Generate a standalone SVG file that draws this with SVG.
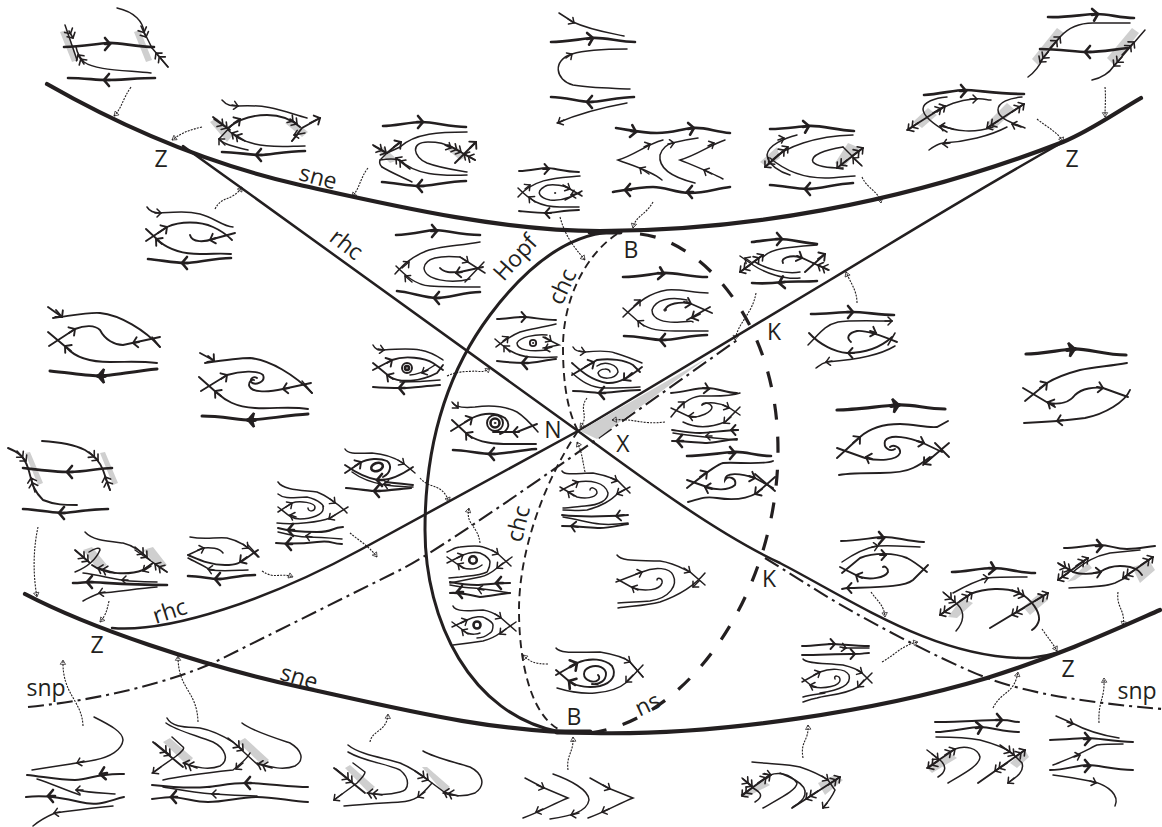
<svg xmlns="http://www.w3.org/2000/svg" width="1162" height="827" viewBox="0 0 1162 827">
<style>
path,ellipse,circle{fill:none;stroke:#231f20;stroke-linecap:round}
.t{stroke-width:1.5}
.m{stroke-width:1.9}
.k{stroke-width:2.6}
.h{stroke-width:3.8}
.g{fill:#cfcfcf;stroke:none}
.a{stroke-width:1.5;marker-end:url(#ar)}
.A{stroke-width:1.9;marker-end:url(#aM)}
.K{stroke-width:2.6;marker-end:url(#aK)}
.H{stroke-width:3.8;marker-end:url(#aH)}
.d{stroke-width:1.6;marker-end:url(#a2)}
.c{stroke-width:1.1;stroke-dasharray:2 1.2;stroke-linecap:butt;marker-end:url(#ac)}
.s1{stroke-width:4.2}
.s2{stroke-width:2.5}
.dd{stroke-width:1.9;stroke-dasharray:8 5;stroke-linecap:butt}
.ns{stroke-width:3.2;stroke-dasharray:16 17;stroke-linecap:butt}
.dc{stroke-width:2.1;stroke-dasharray:16 5 3 5;stroke-linecap:butt}
text{font-family:"Open Sans","Noto Sans","Liberation Sans",sans-serif;font-size:23px;fill:#231f20;text-anchor:middle}
</style>
<defs>
<marker id="ar" markerUnits="userSpaceOnUse" orient="auto" markerWidth="12" markerHeight="12" refX="6" refY="6" viewBox="0 0 12 12"><path d="M2,2 6,6 2,10" stroke-width="1.5"/></marker>
<marker id="aM" markerUnits="userSpaceOnUse" orient="auto" markerWidth="14" markerHeight="14" refX="7" refY="7" viewBox="0 0 14 14"><path d="M2.5,2 7,7 2.5,12" stroke-width="1.9"/></marker>
<marker id="aK" markerUnits="userSpaceOnUse" orient="auto" markerWidth="16" markerHeight="16" refX="8" refY="8" viewBox="0 0 16 16"><path d="M3,2 8,8 3,14" stroke-width="2.6"/></marker>
<marker id="aH" markerUnits="userSpaceOnUse" orient="auto" markerWidth="20" markerHeight="20" refX="10" refY="10" viewBox="0 0 20 20"><path d="M4,3 10,10 4,17 6,10Z" stroke-width="2.4" fill="#231f20"/></marker>
<marker id="a2" markerUnits="userSpaceOnUse" orient="auto" markerWidth="18" markerHeight="14" refX="14" refY="7" viewBox="0 0 18 14"><path d="M5,2.5 9,7 5,11.5M10,2.5 14,7 10,11.5" stroke-width="1.6"/></marker>
<marker id="ac" markerUnits="userSpaceOnUse" orient="auto" markerWidth="8" markerHeight="8" refX="7" refY="4" viewBox="0 0 8 8"><path d="M3,1.5 7,4 3,6.5Z" fill="#231f20" stroke-width=".7"/></marker>
</defs>

<g id="curves">
<path class="s1" d="M47,84C110,120 195,161 300,185C390,205 500,231 600,231C740,231 900,205 1063,142C1090,131 1115,113 1141,98"/>
<path class="s1" d="M25,594C90,628 200,665 300,687C400,709 490,732 590,733C720,736 880,710 987,678C1060,655 1110,632 1160,610"/>
<path class="s2" d="M183,146Q205,162 240,187L578,431C650,484 720,535 780,563C860,605 940,660 1030,658C1040,657 1050,655 1060,652"/>
<path class="s2" d="M112,628C170,633 270,599 360,550L578,431L830,280C900,238 960,200 1063,142"/>
<path class="s1" style="stroke-width:3" d="M610,232C560,236 520,275 490,315C445,375 425,450 425,530C425,620 470,715 560,732"/>
<path class="dd" d="M617,234C585,255 563,300 563,347C563,385 568,412 578,431"/>
<path class="dd" d="M578,431C545,480 519,550 519,610C519,660 530,715 560,730"/>
<path class="ns" d="M640,234C700,240 778,320 778,450C778,590 690,720 590,733"/>
<path class="dc" d="M28,707C100,700 170,682 213,663L400,570C440,550 560,465 600,437L740,338"/>
<path class="dc" d="M765,558L813,588C850,612 940,660 987,678C1030,694 1090,703 1162,709"/>
<path class="g" d="M580,431 707,358 678,379 613,427 597,439Z"/>
<path class="s1" style="stroke-width:5" d="M557,732H590M590,232H620"/>
</g>

<g id="labels">
<text x="161" y="167">Z</text>
<text x="318" y="185" transform="rotate(15 318 178)">sne</text>
<text x="346" y="252" transform="rotate(38 346 245)">rhc</text>
<text x="631" y="258">B</text>
<text x="516" y="265" transform="rotate(-48 516 258)">Hopf</text>
<text x="563" y="294" transform="rotate(-65 563 287)">chc</text>
<text x="774" y="340">K</text>
<text x="553" y="438">N</text>
<text x="623" y="452">X</text>
<text x="519" y="531" transform="rotate(-76 519 524)">chc</text>
<text x="769" y="587">K</text>
<text x="170" y="619" transform="rotate(-18 170 612)">rhc</text>
<text x="97" y="653">Z</text>
<text x="46" y="696">snp</text>
<text x="299" y="685" transform="rotate(17 299 678)">sne</text>
<text x="574" y="725">B</text>
<text x="648" y="712" transform="rotate(-25 648 705)">ns</text>
<text x="1068" y="677">Z</text>
<text x="1137" y="699">snp</text>
<text x="1072" y="167">Z</text>
</g>

<g id="connectors">
<path class="c" d="M131,87C122,100 122,108 114,116"/>
<path class="c" d="M202,127C190,130 183,132 172,140"/>
<path class="c" d="M368,168C360,178 360,188 352,197"/>
<path class="c" d="M215,209C222,195 232,202 242,187"/>
<path class="c" d="M653,202C645,216 636,215 633,228"/>
<path class="c" d="M560,217C565,235 572,245 585,260"/>
<path class="c" d="M862,177C868,190 878,190 881,203"/>
<path class="c" d="M1037,119C1048,128 1058,132 1063,142"/>
<path class="c" d="M1105,87C1106,97 1105,107 1105,117"/>
<path class="c" d="M756,293C752,315 738,322 735,340"/>
<path class="c" d="M857,303C857,290 850,282 846,272"/>
<path class="c" d="M447,376C460,370 470,372 475,371C482,372 485,372 490,368"/>
<path class="c" d="M665,422C640,425 635,418 612,420"/>
<path class="c" d="M587,398C578,410 590,415 580,428"/>
<path class="c" d="M585,472C582,458 582,452 577,442"/>
<path class="c" d="M420,478C430,490 442,482 449,502"/>
<path class="c" d="M480,543C478,525 465,525 469,508"/>
<path class="c" d="M350,533C358,540 368,545 377,557"/>
<path class="c" d="M262,571C275,580 280,572 293,577"/>
<path class="c" d="M38,527C33,550 33,575 37,597"/>
<path class="c" d="M109,601C107,610 106,615 100,622"/>
<path class="c" d="M83,726C82,700 62,695 63,660"/>
<path class="c" d="M198,722C197,690 178,690 178,656"/>
<path class="c" d="M370,742C372,730 387,732 388,714"/>
<path class="c" d="M568,770C566,755 574,752 573,737"/>
<path class="c" d="M548,664C535,664 530,662 523,655"/>
<path class="c" d="M803,758C800,740 809,742 808,725"/>
<path class="c" d="M882,662C895,655 902,645 918,642"/>
<path class="c" d="M993,708C1002,690 1014,695 1018,672"/>
<path class="c" d="M1042,629C1048,638 1052,642 1057,651"/>
<path class="c" d="M1099,723C1098,700 1105,700 1104,678"/>
<path class="c" d="M1118,592C1116,608 1126,610 1123,626"/>
<path class="c" d="M871,592C878,602 884,605 885,617"/>
</g>

<g id="n1">
<path class="g" d="M60,32 67,30 78,60 72,62Z"/><path class="g" d="M134,32 140,30 152,60 146,62Z"/>
<path class="k" d="M64,47C80,47 95,44 107,43S135,47 154,47"/><path class="K" d="M105,44 110,44"/>
<path class="t" d="M65,25L77,60"/><path class="d" d="M69,31 73,38"/>
<path class="t" d="M151,73C120,70 95,70 84,62C79,57 77,52 76,47"/><path class="d" d="M84,64 78,55"/>
<path class="t" d="M117,8C135,12 143,22 144,32L152,48"/><path class="d" d="M141,26 146,37"/>
<path class="t" d="M168,67L152,48"/><path class="d" d="M168,67 156,53"/>
<path class="k" d="M68,78C85,78 95,80 107,80S140,78 155,78"/><path class="K" d="M110,80 104,80"/>
</g>

<g id="n2">
<path class="g" d="M210,122 217,118 233,135 227,142Z"/><path class="g" d="M285,123 293,120 308,132 302,137Z"/>
<path class="t" d="M222,100C227,106 232,106 238,106C270,104 285,112 307,118"/><path class="a" d="M232,105 238,106"/>
<path class="m" d="M228,128C240,118 255,115 267,115C280,115 290,118 300,127"/><path class="A" d="M234,123 240,119"/><path class="d" d="M290,119 297,124"/>
<path class="m" d="M213,117L230,130"/><path class="d" d="M214,119 227,128"/>
<path class="m" d="M292,141L302,128L320,118"/><path class="A" d="M310,123 320,118"/>
<path class="t" d="M305,146C290,146 270,148 255,144C240,140 235,137 228,130"/><path class="d" d="M245,141 232,133"/>
<path class="t" d="M248,150C235,147 225,145 219,139L232,125"/><path class="a" d="M225,145 219,139"/><path class="t" d="M292,141 298,134"/>
<path class="a" d="M305,133 294,135"/>
<path class="k" d="M222,152C235,152 250,155 260,155S285,151 305,151"/><path class="K" d="M262,155 256,155"/>
</g>

<g id="n3">
<path class="g" d="M377,150 383,147 398,160 390,163Z"/><path class="g" d="M448,150 457,147 467,157 460,160Z"/>
<path class="k" d="M383,126C395,126 410,122 422,122S450,127 466,127"/><path class="K" d="M417,122 423,122"/>
<path class="t" d="M467,132C440,132 415,133 400,147L387,153"/>
<path class="t" d="M450,147C445,143 435,142 428,142C410,142 413,157 427,163C440,168 455,170 467,172"/><path class="a" d="M445,145 451,148"/>
<path class="t" d="M467,175C440,176 415,175 400,160C392,158 380,160 380,160"/>
<path class="d" d="M410,169 396,158"/>
<path class="m" d="M373,145L387,153L400,142"/><path class="d" d="M374,146 386,153"/><path class="A" d="M394,147 401,142"/>
<path class="t" d="M381,159L387,153"/><path class="t" d="M382,167C390,172 400,176 412,182"/><path class="t" d="M380,160C379,163 380,165 382,167"/>
<path class="m" d="M455,163L476,142"/><path class="A" d="M470,148 476,142"/>
<path class="m" d="M448,145L475,160"/><path class="d" d="M450,146 461,152"/><path class="d" d="M475,160 464,154"/>
<path class="k" d="M382,182C395,183 410,186 420,186S450,181 466,181"/><path class="K" d="M424,186 417,186"/>
</g>

<g id="n4">
<path class="t" d="M559,13L573,22C590,30 610,33 624,36"/><path class="a" d="M568,19 574,23"/>
<path class="k" d="M551,42C565,42 580,39 592,38S620,42 635,42"/><path class="K" d="M587,39 593,38"/>
<path class="t" d="M630,89C610,88 590,88 573,85C555,80 552,60 572,54C585,50 610,49 627,49"/><path class="a" d="M566,58 572,54"/>
<path class="k" d="M551,97C565,97 580,102 590,102S620,97 634,97"/><path class="K" d="M593,102 587,102"/>
<path class="t" d="M627,103C605,107 580,113 557,123"/><path class="a" d="M564,120 558,123"/>
</g>

<g id="n5">
<path class="m" d="M519,171C530,171 540,168 547,168S565,172 579,172"/><path class="A" d="M543,169 549,169"/>
<path class="t" d="M580,176C560,178 535,177 518,197"/><path class="a" d="M525,189 530,185"/>
<path class="t" d="M518,188C530,200 540,207 560,207C570,207 575,207 579,207"/><path class="a" d="M535,202 529,197"/>
<path class="t" d="M567,187C555,184 548,184 544,187C535,192 540,198 550,200C558,201 565,199 570,197"/>
<path class="t" d="M563,185L582,196M565,200L582,191"/><path class="a" d="M564,186 570,189"/><path class="a" d="M580,193 571,195"/>
<circle cx="555" cy="193" r=".6"/>
<path class="m" d="M519,211C530,212 540,213 547,213S565,210 579,210"/><path class="A" d="M551,213 545,213"/>
</g>

<g id="n6">
<path class="k" d="M616,128C630,130 640,133 657,133S680,129 693,128S715,132 730,133"/><path class="K" d="M631,131 636,132"/><path class="K" d="M688,129 694,128"/>
<path class="t" d="M663,140C645,145 635,155 618,160C630,165 650,170 662,180"/><path class="a" d="M644,147 650,144"/><path class="a" d="M649,174 640,168"/>
<path class="t" d="M695,183C675,178 658,170 660,155C662,148 668,144 672,143C680,141 690,139 698,138"/><path class="a" d="M668,144 674,143"/>
<path class="t" d="M725,140C710,145 697,155 680,160C692,165 710,172 723,179"/><path class="a" d="M708,146 714,143"/><path class="a" d="M712,174 704,170"/>
<path class="k" d="M613,192C625,190 640,187 653,187S675,193 690,193S715,189 730,187"/><path class="K" d="M631,190 625,190"/><path class="K" d="M693,192 687,192"/>
</g>

<g id="n7">
<path class="g" d="M760,162 777,147 780,158 767,167Z"/><path class="g" d="M835,163 848,143 860,148 843,168Z"/>
<path class="k" d="M770,129C785,129 795,127 808,126S835,130 854,131"/><path class="K" d="M803,127 809,126"/>
<path class="t" d="M797,135C785,138 768,145 767,155C768,165 780,172 790,175"/><path class="a" d="M778,140 784,138"/>
<path class="m" d="M765,167L787,148"/><path class="d" d="M778,155 788,147"/><path class="d" d="M775,158 765,167"/>
<path class="t" d="M772,160C785,147 815,136 853,135"/>
<path class="t" d="M770,158C790,175 810,178 825,178C838,178 848,176 855,176"/>
<path class="t" d="M843,147C825,150 810,155 813,162C818,168 835,168 843,168"/>
<path class="m" d="M837,168L863,148"/><path class="d" d="M852,156 863,148"/><path class="d" d="M847,160 837,168"/>
<path class="t" d="M843,147L862,166"/><path class="a" d="M861,165 853,158"/>
<path class="k" d="M770,185C785,186 795,189 808,189S835,184 853,183"/><path class="K" d="M811,189 805,189"/>
</g>

<g id="n8">
<path class="g" d="M913,122 928,108 937,115 922,128Z"/><path class="g" d="M987,123 1007,103 1015,110 993,130Z"/>
<path class="k" d="M924,95C940,94 955,90 965,90S1000,94 1024,94"/><path class="K" d="M960,91 966,91"/>
<path class="m" d="M907,130L945,106"/><path class="d" d="M933,113 945,106"/><path class="d" d="M918,123 908,130"/>
<path class="t" d="M947,97C935,98 923,102 923,109C923,116 935,125 947,132"/><path class="a" d="M953,129 940,126"/>
<path class="t" d="M937,112C945,105 960,100 973,99S985,100 991,100"/><path class="a" d="M970,99 977,99"/>
<path class="t" d="M942,125C955,132 975,133 993,127"/>
<path class="m" d="M987,128L1024,104"/><path class="d" d="M1012,112 1024,104"/><path class="d" d="M998,121 987,128"/>
<path class="t" d="M1022,97C1010,98 998,102 998,110C998,118 1010,122 1025,128"/><path class="a" d="M1021,127 1012,124"/>
<path class="t" d="M1007,127C990,136 965,142 943,143C937,144 933,147 929,150"/><path class="a" d="M950,143 943,144"/>
</g>

<g id="n9">
<path class="g" d="M1032,59 1057,28 1064,33 1038,65Z"/><path class="g" d="M1107,58 1132,28 1139,33 1114,65Z"/>
<path class="k" d="M1048,17C1065,18 1085,14 1097,14S1120,18 1134,18"/><path class="K" d="M1092,15 1098,14"/>
<path class="t" d="M1028,77C1035,72 1040,65 1043,58L1060,37C1068,28 1080,23 1093,23S1120,23 1130,23"/>
<path class="d" d="M1050,48 1060,37"/><path class="d" d="M1048,52 1040,62"/>
<path class="k" d="M1040,49C1060,49 1075,52 1088,52S1110,50 1128,48"/><path class="K" d="M1091,52 1085,52"/>
<path class="t" d="M1092,80C1102,78 1110,72 1113,67L1145,30"/><path class="d" d="M1122,55 1134,42"/><path class="d" d="M1122,57 1114,66"/>
</g>

<g id="n10">
<path class="t" d="M147,207C150,212 155,213 160,213C175,212 187,211 200,214C215,218 222,226 233,227"/><path class="a" d="M155,213 161,213"/>
<path class="m" d="M146,229L160,242C170,250 185,254 200,254S220,253 231,254"/><path class="A" d="M162,244 156,239"/>
<path class="m" d="M146,241L167,227C180,221 200,221 213,227C222,231 228,236 232,240"/><path class="A" d="M158,233 167,227"/>
<path class="m" d="M190,235C192,243 205,242 213,239L235,233"/><path class="A" d="M216,238 210,240"/>
<path class="k" d="M148,259C160,260 175,263 185,263S215,258 231,258"/><path class="K" d="M188,263 182,263"/>
</g>

<g id="n11">
<path class="k" d="M396,235C410,235 425,231 433,230S460,235 480,235"/><path class="K" d="M431,231 437,231"/>
<path class="t" d="M480,242C460,246 437,246 424,252C410,258 403,265 395,274"/><path class="a" d="M402,268 409,262"/>
<path class="t" d="M396,266C405,275 415,285 430,286S465,287 480,287"/><path class="a" d="M412,282 405,276"/>
<path class="t" d="M460,257C440,255 425,258 424,268C425,280 450,284 470,279"/>
<path class="m" d="M440,268C445,274 455,272 460,272L483,267"/><path class="A" d="M462,272 456,273"/>
<path class="t" d="M460,257L485,273M465,282 484,262"/><path class="a" d="M462,258 468,262"/>
<path class="k" d="M397,291C410,292 425,298 437,298S465,292 480,292"/><path class="K" d="M440,298 434,298"/>
</g>

<g id="n12">
<path class="m" d="M497,319C505,319 515,317 523,317S545,320 556,320"/><path class="A" d="M520,317 526,317"/>
<path class="t" d="M556,324C540,328 530,329 520,332C510,336 505,340 496,347"/><path class="a" d="M503,341 508,337"/>
<path class="t" d="M495,339C505,348 515,356 530,357S550,357 557,357"/><path class="a" d="M510,352 504,346"/>
<path class="t" d="M547,335C535,334 520,337 517,343C517,350 530,352 547,350"/>
<path class="t" d="M543,337L559,345L543,348"/><path class="a" d="M545,337 551,341"/><path class="a" d="M552,347 545,349"/>
<circle cx="533" cy="343" r="3.2" style="stroke-width:1.8"/><circle cx="533" cy="343" r=".6"/>
<path class="k" style="stroke-width:2" d="M497,361C505,362 515,363 525,363S545,360 556,359"/><path class="K" d="M528,363 522,363"/>
</g>

<g id="n13">
<path class="t" d="M573,347C575,351 580,352 585,352C595,351 607,350 615,353C625,356 635,360 642,363"/><path class="a" d="M579,351 585,352"/>
<path class="m" d="M572,375L597,360C610,358 625,360 633,365L640,372"/><path class="A" d="M585,367 594,362"/>
<path class="m" d="M572,363C580,370 590,380 607,383C620,384 632,375 642,367"/><path class="A" d="M632,373 624,380"/>
<path class="t" d="M572,373C580,380 590,388 605,388S625,388 640,387"/>
<path class="t" d="M597,366C605,360 618,365 618,372C615,380 600,380 598,373C600,368 610,368 610,372"/>
<path class="k" style="stroke-width:2" d="M573,391C585,391 595,393 603,393S625,390 640,390"/><path class="K" d="M605,393 599,393"/>
</g>

<g id="n14">
<path class="k" d="M623,277C640,277 650,274 662,273S690,277 707,277"/><path class="K" d="M658,273 664,274"/>
<path class="t" d="M708,293C690,292 680,289 667,290C650,293 640,300 623,317"/><path class="a" d="M634,306 640,300"/>
<path class="t" d="M623,308L640,323C650,330 660,331 675,331S695,331 708,331"/><path class="a" d="M644,326 638,321"/>
<path class="t" d="M687,300C670,296 655,300 652,310C652,320 665,323 680,322S690,321 693,322"/>
<path class="m" d="M665,310C667,303 680,302 690,303"/><circle cx="665" cy="310" r="1.2"/>
<path class="m" d="M687,302L712,313M687,320L710,307"/><path class="A" d="M684,302 691,304"/><path class="A" d="M700,314 692,318"/>
<path class="k" d="M624,336C640,336 650,340 663,340S690,335 707,335"/><path class="K" d="M666,340 660,340"/>
</g>

<g id="n15">
<path class="k" d="M752,242C762,241 772,239 780,239S805,243 817,244"/><path class="K" d="M776,239 782,239"/>
<path class="m" d="M740,272L763,255"/><path class="d" d="M752,263 763,255"/><path class="d" d="M750,265 740,272"/>
<path class="t" d="M740,256L753,265C765,273 785,280 800,278"/><path class="a" d="M751,262 745,258"/>
<path class="t" d="M763,257C772,248 790,247 817,245"/>
<path class="t" d="M755,262C765,268 785,275 800,272"/>
<path class="m" d="M783,263C780,258 790,255 800,257L813,263"/><path class="A" d="M797,256 802,258"/>
<path class="m" d="M805,272L825,254"/><path class="A" d="M818,259 825,254"/>
<path class="m" d="M813,263L828,270"/><path class="d" d="M829,270 818,265"/>
<path class="k" d="M752,283C765,284 775,283 783,282S805,282 817,281"/><path class="K" d="M785,282 779,283"/>
</g>

<g id="n16">
<path class="k" d="M811,314C825,314 840,312 852,312S880,315 894,315"/><path class="K" d="M847,312 853,312"/>
<path class="t" d="M808,345C820,333 825,325 838,322C850,320 875,321 892,321"/><path class="a" d="M885,321 892,321"/>
<path class="m" d="M809,333C820,345 835,352 847,353C865,353 880,348 892,337"/><path class="A" d="M854,353 848,353"/>
<path class="m" d="M851,342C846,338 848,333 857,331C865,330 880,335 897,342"/><path class="A" d="M870,331 876,333"/>
<path class="t" d="M888,345 895,333"/>
<path class="t" d="M895,346C880,355 860,359 827,362C822,363 820,365 816,368"/><path class="a" d="M832,361 826,362"/>
</g>

<g id="n17">
<path class="h" style="stroke-width:3.2" d="M837,410C855,410 880,406 897,405S925,409 945,409"/><path class="H" d="M891,406 899,405"/>
<path class="m" d="M837,458L860,437C870,428 885,424 900,424S925,428 937,427L948,421"/><path class="A" d="M853,443 860,437"/>
<path class="m" d="M837,448L865,458C878,461 897,461 900,453C901,447 893,444 890,447"/><path class="A" d="M872,459 866,457"/>
<path class="m" d="M942,452L923,443C910,438 890,433 885,441C883,448 890,452 895,449"/><path class="A" d="M917,441 924,443"/>
<path class="m" d="M949,457 935,443M949,443 923,465"/><path class="A" d="M932,457 924,464"/>
<path class="m" d="M839,475C850,473 865,473 880,473S905,472 913,468C920,465 925,461 930,457"/>
</g>

<g id="n18">
<path class="h" style="stroke-width:3.2" d="M1026,354C1040,354 1060,350 1073,349S1105,355 1126,355"/><path class="H" d="M1067,350 1075,349"/>
<path class="m" d="M1127,363C1110,366 1095,367 1080,370C1065,374 1055,378 1047,383L1025,401"/><path class="A" d="M1040,388 1047,383"/>
<path class="m" d="M1023,388L1055,407"/><path class="A" d="M1054,405 1048,402"/>
<path class="m" d="M1048,403C1060,405 1070,402 1075,395C1082,388 1095,387 1103,388L1128,397"/><path class="A" d="M1097,387 1103,388"/>
<path class="m" d="M1130,390C1125,402 1105,414 1085,418C1070,420 1045,422 1024,423"/><path class="A" d="M1063,420 1057,421"/>
</g>

<g id="n19">
<path class="m" d="M48,307L62,317"/><path class="m" d="M53,318C75,315 90,312 100,313C120,315 145,330 160,347"/><path class="A" d="M56,310 62,317"/>
<path class="m" d="M48,332L67,348C75,357 90,362 110,362S140,361 157,363"/><path class="A" d="M71,351 65,346"/>
<path class="m" d="M49,346L75,329C85,325 95,325 100,330C105,340 115,345 123,345L160,337"/><path class="A" d="M69,333 75,329"/><path class="A" d="M139,342 133,343"/>
<path class="h" style="stroke-width:3" d="M50,371C70,373 90,376 100,376S135,371 157,369"/><path class="H" d="M105,376 98,376"/>
<path class="t" d="M152,337 160,347"/>
</g>

<g id="n20">
<path class="m" d="M200,353L213,360"/><path class="m" d="M205,363C225,360 240,358 250,358C270,360 295,375 312,393"/><path class="A" d="M208,356 214,361"/>
<path class="m" d="M199,377L217,393C225,400 235,407 255,408S290,406 308,409"/><path class="A" d="M221,396 215,391"/>
<path class="m" d="M201,391L227,375C240,371 258,370 263,375C266,382 255,386 251,382C250,378 254,376 257,378"/><path class="A" d="M221,379 227,375"/>
<path class="m" d="M311,383L283,389C265,393 250,392 249,385C249,381 252,379 254,380"/><path class="A" d="M289,388 283,389"/>
<path class="t" d="M302,381 312,393"/>
<path class="h" style="stroke-width:3" d="M202,416C220,416 240,420 250,420S290,415 308,414"/><path class="H" d="M255,420 248,420"/>
</g>

<g id="n21">
<path class="g" d="M25,453 30,452 43,483 38,485Z"/><path class="g" d="M100,453 105,452 118,483 113,485Z"/>
<path class="k" d="M23,468C40,470 55,472 70,472S100,468 112,468"/><path class="K" d="M73,472 67,472"/>
<path class="m" d="M8,448C18,452 24,456 28,468C32,480 31,488 43,500C55,505 65,505 77,505"/><path class="d" d="M17,451 26,461"/><path class="d" d="M35,492 31,478"/>
<path class="m" d="M42,441C60,442 75,445 85,450C95,456 100,462 103,470L110,490"/><path class="d" d="M89,452 98,460"/><path class="d" d="M110,490 105,477"/>
<path class="k" d="M23,509C40,510 55,513 62,513S90,509 108,509"/><path class="K" d="M65,513 59,513"/>
</g>

<g id="n22">
<path class="g" d="M83,550 92,547 107,565 98,570Z"/><path class="g" d="M143,550 153,547 167,565 160,570Z"/>
<path class="t" d="M85,532C92,540 105,541 123,543C135,546 143,553 150,560"/><path class="d" d="M135,547 147,557"/>
<path class="m" d="M75,550L90,563"/><path class="d" d="M76,551 88,561"/>
<path class="t" d="M75,572C85,568 95,562 100,550C100,547 95,548 89,552"/>
<path class="m" d="M92,565C105,575 130,575 143,570L153,563"/><path class="d" d="M115,573 98,568"/>
<path class="t" d="M135,550 167,572"/><path class="d" d="M167,572 155,564"/><path class="t" d="M153,563 143,570"/><path class="a" d="M151,566 143,571"/>
<path class="t" d="M83,573C100,575 115,580 130,581S145,582 157,582"/><path class="a" d="M128,580 122,580"/>
<path class="k" d="M73,583C80,583 85,582 90,582C110,583 130,585 167,585"/><path class="K" d="M93,582 87,582"/>
<path class="t" d="M157,587C135,589 115,592 100,593C95,595 88,598 83,601"/><path class="a" d="M105,592 99,593"/>
</g>

<g id="n23">
<path class="t" d="M190,537C205,540 215,537 227,538C240,541 250,548 258,557"/><path class="a" d="M243,544 248,548"/>
<path class="t" d="M188,555L203,548C210,547 220,548 223,553"/><path class="a" d="M198,550 204,548"/>
<path class="t" d="M188,558C195,562 205,566 210,570C225,572 240,570 248,570"/><path class="a" d="M214,570 208,569"/>
<path class="m" d="M188,555C200,560 210,565 225,565S240,562 258,550"/><path class="A" d="M247,557 240,562"/>
<path class="t" d="M248,545 259,557"/>
<path class="k" d="M188,576C200,576 210,579 218,579S240,575 255,575"/><path class="K" d="M221,579 215,579"/>
</g>

<g id="n24">
<path class="t" d="M278,482C283,490 300,490 317,492C325,495 340,505 347,513"/><path class="a" d="M330,499 335,503"/>
<path class="t" d="M278,494C285,500 295,497 307,497C320,500 325,507 323,507C325,515 310,519 300,519C290,519 285,512 278,507"/><path class="a" d="M296,517 290,515"/>
<path class="t" d="M278,512L292,503C300,500 315,503 315,507C315,512 308,512 308,508"/><path class="a" d="M286,507 292,503"/>
<path class="t" d="M348,507L330,518C320,522 295,525 277,523"/><path class="a" d="M335,515 329,519"/>
<path class="k" style="stroke-width:2" d="M278,528C285,530 300,532 317,532S330,528 343,527"/><path class="K" d="M294,530 288,530"/>
<path class="t" d="M278,532C290,535 300,537 307,537S330,538 342,539"/><path class="a" d="M312,537 306,536"/>
<path class="k" style="stroke-width:2" d="M276,543C290,544 300,544 317,542S330,544 342,544"/><path class="K" d="M292,544 286,544"/>
</g>

<g id="n25">
<path class="t" d="M345,449C348,455 360,453 372,453C385,454 397,459 403,463L415,473"/><path class="a" d="M398,460 404,464"/>
<path class="m" d="M345,473L360,463C368,458 380,458 387,461C392,465 391,473 383,477"/><path class="A" d="M355,466 361,462"/>
<path class="m" d="M345,465C355,472 365,478 378,480C388,481 400,476 413,467"/><path class="K" d="M384,480 377,480"/>
<ellipse cx="377" cy="467" rx="6" ry="4" transform="rotate(-20 377 467)" class="k"/>
<path class="t" d="M352,472C360,478 368,482 385,485C395,486 405,487 413,487"/><path class="a" d="M390,485 384,484"/>
<path class="m" d="M385,482C395,483 405,484 413,485"/>
<path class="k" style="stroke-width:2.2" d="M346,488C360,489 370,491 377,491S400,489 411,488"/><path class="K" d="M380,491 374,491"/>
</g>

<g id="n26">
<path class="t" d="M373,345C376,351 380,350 383,350C395,349 410,348 420,350C432,352 440,358 443,360"/><path class="a" d="M378,349 384,350"/>
<path class="m" d="M373,370L392,360C405,355 425,358 433,363L443,370"/><path class="A" d="M387,363 392,360"/>
<path class="m" d="M373,363L390,377C400,383 420,382 437,373L443,365"/><path class="A" d="M393,379 387,375"/>
<circle cx="407" cy="368" r="5" class="m"/><circle cx="407" cy="368" r="2" class="k"/>
<path class="t" d="M410,375C415,375 425,372 435,365"/><path class="a" d="M428,370 422,373"/>
<path class="t" d="M400,382C415,382 430,381 440,380"/>
<path class="k" style="stroke-width:2" d="M373,387C385,388 395,388 403,388S425,386 440,385"/><path class="K" d="M405,388 399,388"/>
</g>

<g id="n27">
<path class="t" d="M452,402C455,408 465,408 475,407C490,405 505,406 517,412C525,417 532,425 538,432"/><path class="a" d="M453,403 458,408"/>
<path class="m" d="M451,431L472,418C485,412 495,412 505,418C510,423 510,430 500,434"/><path class="A" d="M465,422 472,418"/>
<path class="m" d="M452,420L468,435C480,443 495,444 510,444S525,444 536,444"/><path class="A" d="M472,438 466,433"/>
<path class="m" d="M493,432L517,432L537,424"/><path class="A" d="M519,432 513,432"/>
<circle cx="495" cy="423" r="8" class="m"/><circle cx="495" cy="423" r="4.5" class="k"/><circle cx="495" cy="423" r=".8"/>
<path class="k" d="M453,450C465,450 480,454 492,454S520,450 536,449"/><path class="K" d="M495,454 489,454"/>
</g>

<g id="n28">
<path class="m" d="M671,393C685,392 695,388 707,388S725,393 737,393"/><path class="A" d="M703,388 709,389"/>
<path class="t" d="M740,393C730,397 715,396 700,396C690,397 680,405 671,417"/><path class="a" d="M678,408 684,402"/>
<path class="t" d="M671,408L690,417C700,418 712,412 712,407C710,402 702,402 702,405"/><path class="a" d="M696,417 689,416"/>
<path class="t" d="M702,405C708,401 720,403 728,407L740,415"/><path class="a" d="M723,405 729,408"/>
<path class="t" d="M740,407L725,422C710,428 695,428 683,422"/><path class="a" d="M731,417 724,423"/>
<path class="k" style="stroke-width:1.8" d="M672,430C685,432 690,433 700,433S725,430 738,430"/><path class="A" d="M738,430 731,430"/>
<path class="t" d="M673,433C685,435 695,436 705,437S725,439 737,440"/><path class="a" d="M712,436 706,436"/>
<path class="k" style="stroke-width:2" d="M672,441C685,441 700,443 707,443S725,440 737,439"/><path class="K" d="M683,441 677,441"/>
</g>

<g id="n29">
<path class="k" d="M687,456C700,456 720,453 733,452S755,456 771,456"/><path class="K" d="M729,453 735,453"/>
<path class="m" d="M773,461C765,465 735,462 723,463C715,465 700,478 687,488"/><path class="A" d="M700,477 707,472"/>
<path class="m" d="M687,480L707,487C715,490 728,491 735,485C737,478 728,475 725,480C725,472 740,473 755,478L773,488"/><path class="A" d="M712,489 705,487"/><path class="A" d="M749,476 755,478"/>
<path class="m" d="M775,477L757,493C745,500 730,500 717,498S700,499 688,502"/><path class="A" d="M762,489 755,494"/>
<path class="m" d="M755,474 775,491"/>
</g>

<g id="n30">
<path class="t" d="M562,471C565,476 580,473 593,473C605,475 612,478 617,480L630,493"/><path class="a" d="M611,478 617,481"/>
<path class="t" d="M560,491L577,482C590,480 605,482 608,493C608,500 600,505 585,506C575,507 567,508 563,508"/><path class="a" d="M572,485 578,482"/>
<path class="t" d="M560,487L577,497C585,499 595,498 597,493C597,488 590,486 590,490"/><path class="a" d="M574,496 568,492"/>
<path class="t" d="M630,487L618,493C612,500 600,507 587,510C580,511 570,510 563,510"/><path class="a" d="M624,490 617,494"/>
<path class="m" d="M562,515C580,517 600,517 628,515"/><path class="A" d="M624,515 616,516"/>
<path class="t" d="M563,517C580,520 590,523 600,524S620,524 628,523"/>
<path class="m" d="M562,526C580,526 590,528 600,528S620,525 628,524"/><path class="A" d="M578,527 571,526"/>
</g>

<g id="n31">
<path class="t" d="M617,555C622,562 640,560 660,561C675,563 685,570 690,572L705,585"/><path class="a" d="M684,568 690,572"/>
<path class="t" d="M616,582L642,572C655,566 670,568 673,575C678,585 670,598 650,601C640,602 630,602 618,603"/><path class="a" d="M636,574 642,572"/>
<path class="t" d="M617,579L633,588C645,592 660,590 662,583C663,578 657,577 657,580"/><path class="a" d="M638,590 632,587"/>
<path class="t" d="M705,573C695,585 680,595 660,602C645,606 630,606 618,608"/><path class="a" d="M699,581 693,587"/>
</g>

<g id="n33">
<path class="t" d="M447,552C452,550 455,547 460,547C470,546 480,546 483,547C490,549 495,552 497,553L511,566"/><path class="a" d="M492,550 498,554"/>
<path class="t" d="M447,563L463,555C470,552 477,552 480,553C487,556 490,560 490,562C490,568 488,570 487,572C480,576 465,576 460,577L449,578"/><path class="a" d="M457,558 463,555"/>
<path class="t" d="M447,557L463,568C470,570 477,569 482,565"/><path class="a" d="M464,568 458,564"/>
<circle cx="473" cy="560" r="3.8" class="k"/>
<path class="t" d="M512,557L497,568C490,574 485,576 480,577C470,579 460,581 450,583"/><path class="a" d="M503,563 497,568"/>
<path class="k" style="stroke-width:2.2" d="M450,582C460,584 470,585 477,585S495,583 510,583"/><path class="K" d="M503,583 496,583"/>
<path class="t" d="M450,585C460,587 465,588 473,588S495,591 510,593"/><path class="a" d="M484,590 478,589"/>
<path class="k" style="stroke-width:2.2" d="M450,593C460,592 470,595 480,597C490,596 500,594 510,593"/><path class="K" d="M463,592 457,592"/>
</g>

<g id="n34">
<path class="t" d="M453,606C455,612 470,611 483,610C490,611 497,615 500,617L516,631"/><path class="a" d="M495,614 501,618"/>
<path class="t" d="M452,627L467,620C475,616 482,616 485,618C491,621 493,624 493,625C493,630 492,632 490,633C485,637 480,638 477,638"/>
<path class="a" d="M461,623 467,620"/>
<path class="t" d="M452,622L467,633C472,635 478,634 480,633"/><path class="a" d="M468,634 462,630"/>
<circle cx="477" cy="625" r="3.5" class="k"/>
<path class="t" d="M516,622L500,633C495,637 490,639 483,641C470,643 462,644 453,645"/><path class="a" d="M506,629 500,634"/>
</g>

<g id="n35">
<path class="t" d="M556,648C560,654 578,652 600,652C612,654 625,658 630,662L643,677"/><path class="a" d="M624,658 630,662"/>
<path class="m" d="M556,675L577,663C590,657 605,659 612,666C617,675 612,683 600,686C590,688 578,687 570,682L556,670"/><path class="K" d="M570,667 577,663"/><path class="K" d="M575,685 569,681"/>
<path class="m" d="M598,675C602,679 596,683 590,681C582,678 582,670 590,667C598,664 606,668 606,674C606,680 600,685 592,684"/>
<path class="t" d="M643,665L627,682C620,688 610,692 595,693C580,694 570,692 557,688"/><path class="a" d="M633,675 626,682"/><path class="t" d="M630,662 643,677"/>
</g>

<g id="n36">
<path class="m" d="M802,646C815,646 825,644 832,644S855,646 869,646"/><path class="A" d="M829,644 835,644"/>
<path class="t" d="M843,648C850,648 860,648 869,648"/><path class="a" d="M840,647 846,648"/>
<path class="m" d="M802,655C820,655 835,654 852,654S860,653 869,653"/><path class="A" d="M849,654 855,654"/>
<path class="t" d="M803,659C807,664 825,663 843,665C855,668 860,671 862,673L872,683"/><path class="a" d="M857,670 862,673"/>
<path class="t" d="M802,682L820,672C830,668 845,668 849,675C852,685 840,690 820,693"/><path class="a" d="M814,675 820,672"/>
<path class="t" d="M802,678L813,687C825,689 840,686 840,680C840,675 833,675 835,679"/><path class="a" d="M816,687 810,685"/>
<path class="t" d="M872,673L858,687C845,695 825,695 817,698C810,699 806,701 803,702"/><path class="a" d="M864,680 858,687"/>
<path class="t" d="M803,697C810,695 820,694 825,693"/>
</g>

<g id="n37">
<path class="k" style="stroke-width:2" d="M841,541C855,541 870,538 882,537S905,541 924,542"/><path class="K" d="M878,538 884,538"/>
<path class="t" d="M920,547C900,546 890,545 877,546C865,548 855,553 842,562"/><path class="a" d="M872,547 878,546"/>
<path class="m" d="M840,567L860,577C870,580 885,578 888,572C888,567 884,566 883,567"/><path class="A" d="M862,578 856,575"/>
<path class="m" d="M842,573L860,558C875,552 895,553 907,558C915,562 922,568 927,572"/><path class="A" d="M880,555 886,555"/>
<path class="m" d="M928,565L913,580C905,587 880,587 850,588C847,588 845,588 842,589"/><path class="A" d="M853,588 847,588"/>
</g>

<g id="n38">
<path class="g" d="M948,617 962,598 973,603 957,618Z"/><path class="g" d="M1023,607 1040,593 1048,600 1030,615Z"/>
<path class="k" d="M952,572C965,572 980,568 993,568S1020,573 1035,573"/><path class="K" d="M989,568 995,569"/>
<path class="t" d="M1027,577C1010,577 1000,577 987,578C975,581 962,588 953,593"/><path class="a" d="M982,579 988,578"/>
<path class="m" d="M940,615L972,593"/><path class="d" d="M960,601 972,593"/><path class="d" d="M950,608 940,615"/>
<path class="t" d="M943,592L958,605C965,612 964,622 956,631"/><path class="d" d="M944,593 955,602"/>
<path class="m" d="M970,594C985,588 1005,587 1020,593C1032,600 1040,612 1039,620C1038,625 1035,628 1032,630"/><path class="d" d="M1012,590 1024,596"/>
<path class="m" d="M990,628L1048,593"/><path class="d" d="M1035,601 1048,593"/><path class="d" d="M1024,608 1012,615"/>
</g>

<g id="n39">
<path class="g" d="M1067,582 1088,563 1092,568 1075,580Z"/><path class="g" d="M1132,567 1150,562 1155,570 1140,583Z"/>
<path class="k" style="stroke-width:2" d="M1064,548C1075,548 1090,545 1100,545S1115,549 1127,549S1145,547 1155,546"/><path class="K" d="M1096,546 1102,546"/>
<path class="t" d="M1073,572C1085,562 1095,556 1110,553C1120,552 1130,551 1140,550"/>
<path class="m" d="M1058,563L1073,572C1085,576 1095,573 1100,572C1110,565 1120,565 1130,567C1138,569 1140,572 1142,575"/><path class="d" d="M1059,564 1070,570"/><path class="A" d="M1094,573 1101,572"/>
<path class="m" d="M1058,580L1088,558"/><path class="d" d="M1076,566 1088,558"/><path class="d" d="M1068,573 1058,580"/>
<path class="m" d="M1123,578L1153,557"/><path class="d" d="M1141,565 1153,557"/><path class="d" d="M1133,571 1123,578"/>
<path class="t" d="M1069,588C1090,587 1105,587 1115,583L1127,577"/>
</g>

<g id="n40">
<path class="t" d="M94,717C110,725 123,732 123,740C122,750 110,757 95,760C85,762 50,767 32,770"/><path class="a" d="M84,761 77,763"/>
<path class="k" style="stroke-width:2" d="M27,775C45,777 60,780 75,780S95,773 124,774"/><path class="K" d="M107,773 100,774"/>
<path class="t" d="M37,779C50,783 65,790 80,795"/>
<path class="t" d="M77,790C90,793 105,793 115,794"/><path class="a" d="M83,790 76,790"/>
<path class="k" style="stroke-width:2" d="M26,797C40,795 60,797 80,802S110,800 124,797"/><path class="K" d="M55,796 48,796"/>
<path class="t" d="M113,806C90,808 70,811 55,813C48,816 40,820 33,826"/><path class="a" d="M60,812 54,813"/>
</g>

<g id="n41">
<path class="g" d="M163,742 170,738 193,758 187,765Z"/><path class="g" d="M238,742 245,738 269,760 262,765Z"/>
<path class="t" d="M167,718C172,728 188,727 200,728C215,731 225,737 233,742L258,765"/><path class="d" d="M228,738 243,750"/>
<path class="t" d="M166,723C175,730 195,735 213,742C225,748 230,760 220,766C210,770 195,768 183,763"/><path class="d" d="M197,768 184,763"/>
<path class="t" d="M242,723C250,730 275,738 290,743C302,750 305,760 295,766C285,770 270,768 257,763"/><path class="d" d="M272,768 258,764"/>
<path class="m" d="M153,742L183,767"/><path class="d" d="M155,743 170,755"/>
<path class="t" d="M152,773L175,757C182,752 185,748 183,747L172,737"/><path class="a" d="M161,767 153,773"/>
<path class="t" d="M163,780C180,776 205,773 233,770C242,763 248,757 250,753"/><path class="a" d="M243,763 236,769"/>
<path class="k" style="stroke-width:2" d="M152,785C170,787 195,788 207,787S230,783 247,783S290,787 308,787"/><path class="K" d="M251,783 245,783"/>
<path class="t" d="M163,787C180,790 195,793 213,794S240,796 257,796"/><path class="a" d="M219,794 212,794"/>
<path class="k" style="stroke-width:2" d="M152,799C160,798 168,797 173,797C190,799 195,802 208,802C225,802 240,797 257,797S290,801 308,802"/><path class="K" d="M177,797 171,797"/>
</g>

<g id="n42">
<path class="g" d="M345,768 350,765 375,787 368,792Z"/><path class="g" d="M422,767 427,767 450,787 443,792Z"/>
<path class="t" d="M348,745C360,755 385,758 400,763C412,768 422,775 432,783L444,792"/><path class="d" d="M415,771 428,780"/>
<path class="t" d="M423,751C435,758 455,762 470,767C482,773 487,785 475,793C465,797 452,796 443,793"/><path class="d" d="M458,796 444,792"/>
<path class="t" d="M348,752C365,762 385,763 400,770C410,778 410,790 400,792C390,795 378,795 367,793"/><path class="d" d="M382,795 368,793"/>
<path class="m" d="M334,768L365,793"/><path class="d" d="M336,769 352,782"/>
<path class="t" d="M334,800L357,783C362,778 365,775 365,772L353,763"/><path class="a" d="M342,794 334,800"/>
<path class="t" d="M344,806C365,804 385,803 400,802S420,797 432,783"/><path class="a" d="M425,792 418,797"/>
</g>

<g id="n43">
<path class="t" d="M525,778L542,787L568,798C555,803 540,812 523,818"/><path class="a" d="M537,785 544,788"/><path class="a" d="M543,809 536,812"/>
<path class="t" d="M553,774C570,780 589,790 589,800C587,812 570,816 550,819"/><path class="a" d="M579,813 571,815"/>
<path class="t" d="M590,778L608,788L633,798C620,803 605,812 588,818"/><path class="a" d="M603,785 610,789"/><path class="a" d="M609,809 602,812"/>
</g>

<g id="n44">
<path class="g" d="M740,795 763,780 770,785 745,798Z"/><path class="g" d="M818,783 835,775 843,780 825,795Z"/>
<path class="t" d="M752,762C770,764 790,764 800,767C812,771 822,776 828,780L835,790C832,797 828,802 823,808"/><path class="a" d="M822,776 828,780"/><path class="a" d="M827,803 823,808"/>
<path class="m" d="M742,795L770,775"/><path class="d" d="M758,783 770,775"/><path class="d" d="M752,788 742,796"/>
<path class="t" d="M742,778L753,788C760,792 765,796 755,802"/><path class="d" d="M743,779 752,786"/>
<path class="t" d="M770,775C778,772 790,773 797,783C797,790 780,798 763,808"/><path class="a" d="M763,774 771,775"/>
<path class="t" d="M793,807C805,800 812,790 795,780C790,777 785,775 780,773"/>
<path class="m" d="M792,808L840,777"/><path class="d" d="M828,785 840,777"/><path class="d" d="M818,791 806,799"/>
</g>

<g id="n45">
<path class="g" d="M927,768 950,753 957,758 932,773Z"/><path class="g" d="M1010,763 1025,750 1029,757 1017,768Z"/>
<path class="k" style="stroke-width:2" d="M935,722C955,722 985,720 1000,720S1010,722 1019,722"/><path class="K" d="M996,720 1002,720"/>
<path class="k" style="stroke-width:2" d="M936,732C950,732 970,727 980,727S1005,732 1019,732"/><path class="K" d="M976,728 982,727"/>
<path class="t" d="M936,737C955,737 970,738 980,740C995,744 1005,748 1012,753L1022,763C1025,772 1015,778 1008,783"/><path class="d" d="M1000,745 1014,755"/><path class="a" d="M1014,778 1008,783"/>
<path class="m" d="M927,768L955,749"/><path class="d" d="M945,755 955,749"/><path class="d" d="M938,761 928,768"/>
<path class="t" d="M927,750L940,760C947,766 946,772 938,777"/><path class="a" d="M932,754 938,759"/>
<path class="t" d="M955,749C965,745 978,748 980,757C980,765 965,773 948,783"/>
<path class="m" d="M978,783L1025,750"/><path class="d" d="M1015,757 1025,750"/><path class="d" d="M1007,763 995,771"/>
</g>

<g id="n46">
<path class="t" d="M1056,716L1072,723C1085,730 1100,735 1119,738"/><path class="a" d="M1067,722 1073,724"/>
<path class="k" style="stroke-width:2" d="M1050,740C1065,740 1078,738 1088,738S1115,742 1133,742"/><path class="K" d="M1084,739 1090,739"/>
<path class="t" d="M1123,744C1110,744 1105,744 1097,745C1090,748 1080,755 1053,765"/><path class="a" d="M1074,757 1080,755"/>
<path class="k" style="stroke-width:2" d="M1050,770C1065,770 1078,765 1088,765S1115,770 1133,770"/><path class="K" d="M1084,766 1090,766"/>
<path class="t" d="M1053,775C1070,777 1085,780 1095,782C1108,786 1120,795 1115,806"/><path class="a" d="M1090,781 1096,783"/>
</g>
</svg>
